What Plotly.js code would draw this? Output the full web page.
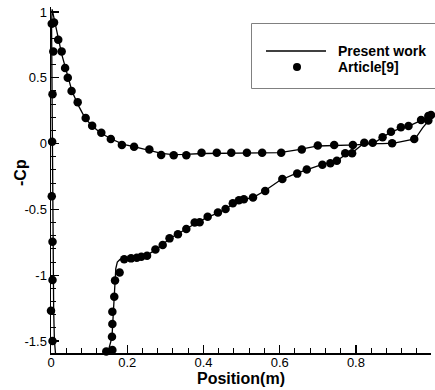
<!DOCTYPE html>
<html>
<head>
<meta charset="utf-8">
<script src="https://cdn.plot.ly/plotly-3.0.1.min.js"></script>
<style>html,body{margin:0;padding:0;background:#fff;}#chart{width:435px;height:390px;}</style>
</head>
<body>
<div id="chart"></div>
<script>
// Present work (computed Cp curve): upper surface TE->LE, then lower surface LE->TE
var presentX = [0.995,0.975,0.955,0.93,0.9,0.87,0.84,0.80,0.75,0.70,0.65,0.60,0.55,0.50,0.45,0.40,0.35,0.32,0.29,0.26,0.22,0.19,0.16,0.13,0.11,0.09,0.07,0.055,0.045,0.036,0.028,0.02,0.012,0.006,0.003,
  0.0015,0.002,0.003,0.003,0.003,0.004,0.005,0.007,0.009,0.0135,0.02,0.13,0.142,0.148,0.16,0.164,0.166,0.168,0.170,0.174,0.181,0.19,0.21,0.23,0.25,0.27,0.29,0.31,0.33,0.355,0.38,0.41,0.44,0.46,0.48,0.50,0.53,0.56,0.60,0.64,0.67,0.71,0.75,0.77,0.79,0.82,0.85,0.87,0.89,0.92,0.94,0.97,0.99,0.997];
var presentY = [0.19,0.12,0.035,0.02,0.003,0.0,0.0,-0.01,-0.012,-0.018,-0.045,-0.068,-0.07,-0.071,-0.072,-0.075,-0.082,-0.083,-0.075,-0.052,-0.025,-0.005,0.033,0.08,0.13,0.19,0.30,0.40,0.50,0.58,0.68,0.79,0.90,0.98,1.02,
  0.9,0.7,0.37,0.0,-0.4,-0.75,-1.0,-1.27,-1.5,-1.65,-2.2,-2.2,-1.65,-1.6,-1.47,-1.28,-1.15,-1.04,-0.95,-0.9,-0.88,-0.875,-0.868,-0.86,-0.85,-0.815,-0.775,-0.725,-0.69,-0.65,-0.605,-0.56,-0.525,-0.495,-0.45,-0.425,-0.41,-0.36,-0.28,-0.23,-0.2,-0.16,-0.13,-0.09,-0.07,0.0,0.01,0.045,0.085,0.12,0.135,0.175,0.21,0.22];

// Article[9] reference points
var articleX = [0.002,0.008,0.019,0.028,0.037,0.044,0.054,0.07,0.091,0.108,0.132,0.157,0.186,0.218,0.258,0.289,0.322,0.355,0.395,0.435,0.473,0.514,0.554,0.604,0.658,0.70,0.743,0.792,0.895,0.953,0.99,
  0.006,0.004,0.003,0.002,0.004,0.004,0.0,0.004,0.145,0.161,0.16,0.161,0.161,0.166,0.168,0.18,0.192,0.21,0.225,0.237,0.252,0.274,0.293,0.311,0.333,0.355,0.377,0.39,0.411,0.438,0.458,0.477,0.493,0.506,0.53,0.562,0.607,0.646,0.671,0.712,0.733,0.75,0.772,0.79,0.822,0.844,0.870,0.892,0.918,0.938,0.971,0.99,0.997];
var articleY = [0.91,0.92,0.79,0.70,0.575,0.50,0.40,0.314,0.195,0.136,0.082,0.035,-0.011,-0.024,-0.045,-0.087,-0.089,-0.089,-0.07,-0.07,-0.07,-0.07,-0.07,-0.07,-0.045,-0.014,-0.011,-0.011,0.002,0.035,0.175,
  0.70,0.375,0.015,-0.40,-0.745,-1.037,-1.27,-1.50,-1.58,-1.568,-1.467,-1.37,-1.277,-1.163,-1.04,-0.98,-0.879,-0.872,-0.867,-0.86,-0.852,-0.805,-0.77,-0.72,-0.688,-0.649,-0.60,-0.598,-0.555,-0.523,-0.497,-0.454,-0.43,-0.423,-0.41,-0.36,-0.269,-0.228,-0.197,-0.16,-0.15,-0.131,-0.074,-0.074,0.007,0.007,0.048,0.09,0.124,0.134,0.18,0.21,0.217];

var xTickVals = [0,0.2,0.4,0.6,0.8];
var xTickText = ["0","0.2","0.4","0.6","0.8"];
var yTickVals = [-1.5,-1,-0.5,0,0.5,1];
var yTickText = ["-1.5","-1","-0.5","0","0.5","1"];
var seriesNames = ["Present work", "Article[9]"];

var font = "Liberation Sans, Arial, sans-serif";

var traces = [
  {x: presentX, y: presentY, mode: "lines", name: seriesNames[0],
   line: {color: "#000", width: 1.3}},
  {x: articleX, y: articleY, mode: "markers", name: seriesNames[1],
   marker: {color: "#000", size: 8.5, symbol: "circle"}, cliponaxis: false}
];

// pixel -> paper helpers for the hand-drawn legend box
var L = 51, T = 7, W = 380, H = 346;
function px(x) { return (x - L) / W; }
function py(y) { return (T + H - y) / H; }

var legFont = {family: font, size: 14, weight: "bold", color: "#000"};

var layout = {
  width: 435, height: 390,
  margin: {l: L, r: 4, t: T, b: 37},
  paper_bgcolor: "#fff", plot_bgcolor: "#fff",
  font: {family: font, color: "#000", size: 13},
  showlegend: false,
  shapes: [
    {type: "rect", xref: "paper", yref: "paper",
     x0: px(251.5), x1: px(440), y0: py(88.5), y1: py(23.5),
     line: {color: "#808080", width: 1}, fillcolor: "rgba(0,0,0,0)"},
    {type: "line", xref: "paper", yref: "paper",
     x0: px(266), x1: px(326), y0: py(51), y1: py(51),
     line: {color: "#000", width: 1.3}},
    {type: "circle", xref: "paper", yref: "paper",
     x0: px(293), x1: px(301), y0: py(71), y1: py(63),
     line: {color: "#000", width: 0}, fillcolor: "#000"}
  ],
  annotations: [
    {xref: "paper", yref: "paper", x: px(336), y: py(51), xanchor: "left", yanchor: "middle",
     text: seriesNames[0], showarrow: false, font: legFont},
    {xref: "paper", yref: "paper", x: px(336), y: py(67), xanchor: "left", yanchor: "middle",
     text: seriesNames[1], showarrow: false, font: legFont},
    {xref: "paper", yref: "paper", x: px(20), y: py(173), xanchor: "center", yanchor: "middle",
     text: "-Cp", textangle: -90, showarrow: false,
     font: {family: font, size: 16, weight: "bold", color: "#000"}}
  ],
  xaxis: {range: [0, 0.997], showgrid: false, zeroline: false,
    showline: true, linecolor: "#000", linewidth: 1.5,
    ticks: "inside", ticklen: 8, tickwidth: 1.3, tickcolor: "#000",
    tickvals: xTickVals, ticktext: xTickText, ticklabelstandoff: -3,
    minor: {ticks: "inside", ticklen: 5, tickwidth: 1, tickcolor: "#000", dtick: 0.04, showgrid: false},
    tickfont: {family: font, size: 13, color: "#000"},
    title: {text: "Position(m)", font: {family: font, size: 16, weight: "bold", color: "#000"}, standoff: 1}},
  yaxis: {range: [-1.591, 1.038], showgrid: false, zeroline: false,
    showline: true, linecolor: "#000", linewidth: 1.5,
    ticks: "inside", ticklen: 8, tickwidth: 1.3, tickcolor: "#000",
    tickvals: yTickVals, ticktext: yTickText,
    minor: {ticks: "inside", ticklen: 5, tickwidth: 1, tickcolor: "#000", dtick: 0.1, showgrid: false},
    tickfont: {family: font, size: 13, color: "#000"}}
};

Plotly.newPlot("chart", traces, layout, {displayModeBar: false, staticPlot: true});
</script>
</body>
</html>
